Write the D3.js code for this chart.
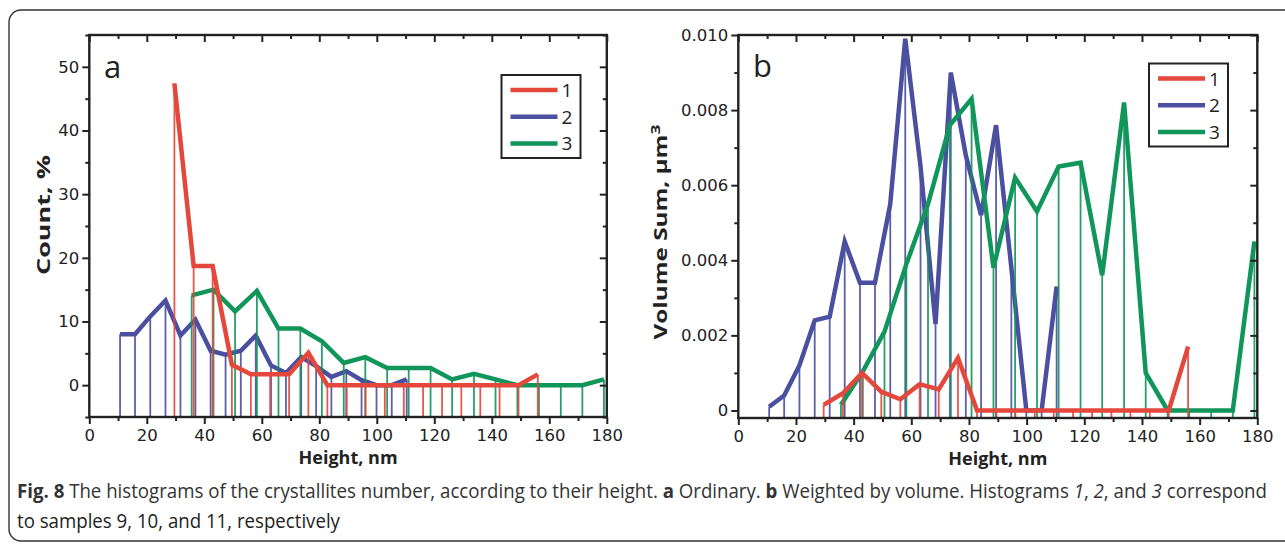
<!DOCTYPE html>
<html>
<head>
<meta charset="utf-8">
<script src="https://cdn.jsdelivr.net/npm/d3@7"></script>
<style>
  body { margin: 0; background: #fff; }
  text { font-family: "Open Sans", "DejaVu Sans", sans-serif; fill: #222; }
  .tick text { font-family: "DejaVu Sans", sans-serif; }
</style>
</head>
<body>
<svg id="fig" width="1285" height="546"></svg>
<script>
// bin centres (height, nm) for samples 9, 10, 11
const heights1 = [29.6, 36.3, 42.9, 49.6, 56.2, 62.9, 69.5, 76.2, 82.8, 89.5, 96.1, 102.8, 109.4, 116.1, 122.7, 129.4, 136.0, 142.7, 149.3, 156.0];
const heights2 = [10.7, 15.9, 21.2, 26.5, 31.7, 36.9, 42.2, 47.4, 52.7, 57.9, 63.2, 68.4, 73.7, 78.9, 84.2, 89.4, 94.7, 99.9, 105.2, 110.4];
const heights3 = [35.6, 43.2, 50.7, 58.3, 65.8, 73.4, 80.9, 88.5, 96.0, 103.6, 111.1, 118.7, 126.2, 133.8, 141.3, 148.9, 156.4, 164.0, 171.5, 179.0];

// panel a: count, %
const countA1 = [47.4, 18.7, 18.7, 3.2, 1.7, 1.7, 1.7, 5.1, 0, 0, 0, 0, 0, 0, 0, 0, 0, 0, 0, 1.7];
const countA2 = [8.0, 8.0, 10.8, 13.3, 7.8, 10.3, 5.4, 4.8, 5.4, 7.8, 3.1, 1.9, 4.4, 3.0, 1.3, 2.2, 0.8, 0, 0, 0.9];
const countA3 = [14.1, 15.0, 11.6, 14.8, 8.9, 8.9, 6.9, 3.5, 4.4, 2.7, 2.7, 2.7, 0.9, 1.8, 0.9, 0, 0, 0, 0, 0.9];

// panel b: volume sum, um^3
const volB1 = [0.00015, 0.00046, 0.0010, 0.0005, 0.0003, 0.0007, 0.00056, 0.0014, 0, 0, 0, 0, 0, 0, 0, 0, 0, 0, 0, 0.0017];
const volB2 = [0.0001, 0.0004, 0.0012, 0.0024, 0.0025, 0.0045, 0.0034, 0.0034, 0.0055, 0.0099, 0.0065, 0.0023, 0.0090, 0.0068, 0.0052, 0.0076, 0.0038, 0, 0, 0.0033];
const volB3 = [0.00015, 0.00104, 0.0021, 0.0039, 0.0055, 0.0076, 0.0083, 0.0038, 0.0062, 0.0053, 0.0065, 0.0066, 0.0036, 0.0082, 0.0010, 0, 0, 0, 0, 0.0045];

const seriesNames = ["1", "2", "3"];
const seriesColors = ["#e4473b", "#4b4f9f", "#10955a"];

const xTicks = [0, 20, 40, 60, 80, 100, 120, 140, 160, 180];
const xMinorTicks = [10, 30, 50, 70, 90, 110, 130, 150, 170];
const yTicksA = [0, 10, 20, 30, 40, 50];
const yMinorA = [-5, 5, 15, 25, 35, 45, 55];
const yTicksB = [0, 0.002, 0.004, 0.006, 0.008, 0.010];
const yMinorB = [0.001, 0.003, 0.005, 0.007, 0.009];

const svg = d3.select("#fig");

// outer rounded frame
svg.append("rect")
    .attr("x", 9).attr("y", 10)
    .attr("width", 1300).attr("height", 531)
    .attr("rx", 12)
    .attr("fill", "none")
    .attr("stroke", "#333")
    .attr("stroke-width", 1.4);

function drawPanel(p) {
    let x = d3.scaleLinear().domain([0, 180]).range([p.left, p.right]);
    let y = d3.scaleLinear().domain(p.yDomain).range([p.bottom, p.top]);
    let g = svg.append("g");

    // series: blue, green, red (red on top)
    for (let i of [1, 2, 0]) {
        let s = p.series[i];
        let pts = s.h.map((h, k) => ({ h, v: s.v[k] }));
        let sg = g.append("g");
        sg.selectAll("line").data(pts).join("line")
            .attr("x1", d => x(d.h)).attr("x2", d => x(d.h))
            .attr("y1", y(p.yDomain[0])).attr("y2", d => y(d.v))
            .attr("stroke", seriesColors[i])
            .attr("stroke-width", 1.8)
            .attr("opacity", 0.9);
        sg.append("path")
            .datum(pts)
            .attr("d", d3.line().x(d => x(d.h)).y(d => y(d.v)))
            .attr("fill", "none")
            .attr("stroke", seriesColors[i])
            .attr("stroke-width", 4.5)
            .attr("stroke-linejoin", "miter");
    }

    let axisStyle = sel => {
        sel.select(".domain").remove();
        sel.selectAll("line").attr("stroke", "#222").attr("stroke-width", 2);
        sel.selectAll("text").attr("font-size", 16.5).attr("fill", "#1a1a1a");
    };

    g.append("g").attr("transform", `translate(0,${p.bottom})`)
        .call(d3.axisBottom(x).tickValues(xTicks).tickSize(7).tickPadding(5)).call(axisStyle);
    g.append("g").attr("transform", `translate(0,${p.bottom})`)
        .call(d3.axisBottom(x).tickValues(xMinorTicks).tickSize(4).tickFormat("")).call(axisStyle);
    g.append("g").attr("transform", `translate(0,${p.top})`)
        .call(d3.axisTop(x).tickValues(xTicks).tickSize(-7).tickFormat("")).call(axisStyle);
    g.append("g").attr("transform", `translate(0,${p.top})`)
        .call(d3.axisTop(x).tickValues(xMinorTicks).tickSize(-4).tickFormat("")).call(axisStyle);

    g.append("g").attr("transform", `translate(${p.left},0)`)
        .call(d3.axisLeft(y).tickValues(p.yTicks).tickSize(7).tickPadding(3).tickFormat(p.yFormat)).call(axisStyle);
    g.append("g").attr("transform", `translate(${p.left},0)`)
        .call(d3.axisLeft(y).tickValues(p.yMinor).tickSize(4).tickFormat("")).call(axisStyle);
    g.append("g").attr("transform", `translate(${p.right},0)`)
        .call(d3.axisRight(y).tickValues(p.yTicks).tickSize(-7).tickFormat("")).call(axisStyle);
    g.append("g").attr("transform", `translate(${p.right},0)`)
        .call(d3.axisRight(y).tickValues(p.yMinor).tickSize(-4).tickFormat("")).call(axisStyle);

    g.append("rect")
        .attr("x", p.left).attr("y", p.top)
        .attr("width", p.right - p.left).attr("height", p.bottom - p.top)
        .attr("fill", "none").attr("stroke", "#222").attr("stroke-width", 2.4);

    // panel letter
    g.append("text")
        .attr("x", p.letterX).attr("y", p.letterY)
        .attr("font-size", 31)
        .attr("fill", "#111")
        .text(p.letter);

    // axis titles
    g.append("text")
        .attr("x", (p.left + p.right) / 2).attr("y", p.bottom + 47)
        .attr("text-anchor", "middle")
        .attr("font-size", 18).attr("font-weight", "bold")
        .text("Height, nm");

    let yt = g.append("text")
        .attr("transform", `translate(${p.yTitleX},${p.yTitleY}) rotate(-90)`)
        .attr("text-anchor", "middle")
        .attr("font-size", 18).attr("font-weight", "bold")
        .attr("textLength", p.yTitleLen)
        .attr("lengthAdjust", "spacingAndGlyphs")
        .text(p.yTitle);
    if (p.yTitleSup) yt.append("tspan").attr("dy", -7).attr("font-size", 13).text(p.yTitleSup);

    // legend
    let lg = g.append("g").attr("transform", `translate(${p.legend[0]},${p.legend[1]})`);
    lg.append("rect")
        .attr("width", 79).attr("height", 83)
        .attr("fill", "#fff").attr("stroke", "#222").attr("stroke-width", 2);
    seriesNames.forEach((name, i) => {
        lg.append("line")
            .attr("x1", 9).attr("x2", 56)
            .attr("y1", 15 + i * 26.7).attr("y2", 15 + i * 26.7)
            .attr("stroke", seriesColors[i]).attr("stroke-width", 4.5);
        lg.append("text")
            .attr("x", 60).attr("y", 15 + i * 26.7 + 7)
            .attr("font-size", 19)
            .text(name);
    });
}

drawPanel({
    left: 89.3, right: 606.8, top: 35, bottom: 417,
    yDomain: [-5, 55], yTicks: yTicksA, yMinor: yMinorA,
    yFormat: d => d,
    series: [{ h: heights1, v: countA1 }, { h: heights2, v: countA2 }, { h: heights3, v: countA3 }],
    letter: "a", letterX: 104, letterY: 78,
    yTitle: "Count, %", yTitleX: 50, yTitleY: 215, yTitleLen: 120,
    legend: [501.5, 75]
});

drawPanel({
    left: 738.3, right: 1257.3, top: 35, bottom: 418,
    yDomain: [-0.0002, 0.010], yTicks: yTicksB, yMinor: yMinorB,
    yFormat: d => d === 0 ? "0" : d3.format(".3f")(d),
    series: [{ h: heights1, v: volB1 }, { h: heights2, v: volB2 }, { h: heights3, v: volB3 }],
    letter: "b", letterX: 753, letterY: 77,
    yTitle: "Volume Sum, \u03bcm", yTitleSup: "3", yTitleX: 667, yTitleY: 232, yTitleLen: 215,
    legend: [1149, 63.5]
});

// caption
const captionLine1 = [
    ["Fig. 8", "bold", "normal"],
    [" The histograms of the crystallites number, according to their height. ", "normal", "normal"],
    ["a", "bold", "normal"],
    [" Ordinary. ", "normal", "normal"],
    ["b", "bold", "normal"],
    [" Weighted by volume. Histograms ", "normal", "normal"],
    ["1", "normal", "italic"],
    [", ", "normal", "normal"],
    ["2", "normal", "italic"],
    [", and ", "normal", "normal"],
    ["3", "normal", "italic"],
    [" correspond", "normal", "normal"]
];
const captionLine2 = "to samples 9, 10, and 11, respectively";

let cap1 = svg.append("g");
let t1 = cap1.append("text").attr("font-size", 20).attr("fill", "#333");
captionLine1.forEach(([txt, w, st]) => {
    t1.append("tspan").attr("font-weight", w).attr("font-style", st).attr("fill", "#333").text(txt);
});
let sx = 1251 / t1.node().getComputedTextLength();
cap1.attr("transform", `translate(17,498) scale(${sx},1)`);

svg.append("g").attr("transform", `translate(17,528) scale(${sx},1)`)
    .append("text").attr("font-size", 20).attr("fill", "#333")
    .text(captionLine2);
</script>
</body>
</html>
